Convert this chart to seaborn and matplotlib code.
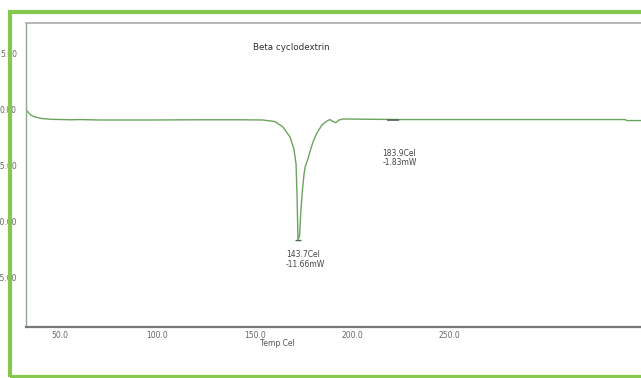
import matplotlib
matplotlib.use("Agg")
import matplotlib.pyplot as plt
from matplotlib.patches import Rectangle
from matplotlib.ticker import FormatStrFormatter
import seaborn as sns
import pandas as pd

# Data (axis coordinates)
temp_cel = [32.4, 33.4, 34.9, 37.0, 40.6, 45.7, 50.9, 55.0, 60.1, 70.4, 96.1,
            121.8, 142.4, 154.2, 160.4, 164.5, 168.1, 170.1, 171.2, 171.7, 172.2,
            173.0, 173.7, 174.5, 175.3, 176.0, 176.8, 178.3, 179.9, 181.9, 184.5,
            187.1, 188.6, 190.2, 191.7, 193.3, 195.3, 224.6, 276.0, 327.4, 340.3,
            341.3, 348.5, 362.0]
heat_mw = [-0.09, -0.27, -0.54, -0.71, -0.85, -0.92, -0.94, -0.96, -0.94, -0.98, -0.98,
           -0.96, -0.96, -0.98, -1.12, -1.61, -2.50, -3.57, -4.91, -7.68, -11.66,
           -11.34, -9.02, -7.23, -5.80, -5.09, -4.73, -3.84, -2.95, -2.14, -1.43,
           -1.07, -0.94, -1.12, -1.21, -0.98, -0.89, -0.94, -0.94, -0.94, -0.94,
           -1.03, -1.03, -1.03]
x_ticks = [50, 100, 150, 200, 250]
y_ticks = [5, 0, -5, -10, -15]
title_text = "Beta cyclodextrin"
peak_label = "143.7Cel\n-11.66mW"
second_label = "183.9Cel\n-1.83mW"
peak_point = (172.2, -11.66)

df = pd.DataFrame({"Temp": temp_cel, "mW": heat_mw})

sns.set_style("white")
W, H = 641, 378
fig = plt.figure(figsize=(W / 100, H / 100), dpi=100)
fig.patch.set_facecolor("white")

xmin, xmax = 32.4, 360.0
ax = fig.add_axes([26 / W, 51 / H, (xmax - xmin) * 1.9456 / W, 304 / H])
sns.lineplot(data=df, x="Temp", y="mW", ax=ax, sort=False, estimator=None,
             color="#6aa35e", linewidth=1.0)
ax.plot([peak_point[0]], [peak_point[1]], marker="_", markersize=5,
        color="#4a6a4a", mew=1.0)
ax.plot([221.0], [-1.0], marker="_", markersize=8, color="#556655", mew=1.2)

ax.set_xlim(xmin, xmax)
ax.set_ylim(-19.46, 7.68)
ax.set_xticks(x_ticks)
ax.set_yticks(y_ticks)
ax.xaxis.set_major_formatter(FormatStrFormatter("%.1f"))
ax.yaxis.set_major_formatter(FormatStrFormatter("%.2f"))
ax.tick_params(axis="both", direction="in", length=6, width=0.8, colors="#777777",
               labelsize=5.5, labelcolor="#666666")
ax.tick_params(axis="y", pad=6.5)
ax.tick_params(axis="x", pad=3)

ax.set_xlabel("Temp Cel", fontsize=5.5, color="#555555")
ax.set_ylabel("")
ax.xaxis.set_label_coords((277 - 26) / ((xmax - xmin) * 1.9456), -0.040)

for side in ["right"]:
    ax.spines[side].set_visible(False)
ax.spines["left"].set_color("#8fa88f")
ax.spines["left"].set_linewidth(1.0)
ax.spines["top"].set_color("#aaaaaa")
ax.spines["top"].set_linewidth(1.2)
ax.spines["bottom"].set_color("#777777")
ax.spines["bottom"].set_linewidth(1.6)

ax.text((291 - 26) / ((xmax - xmin) * 1.9456), (327 - 47) / 304, title_text,
        transform=ax.transAxes, ha="center", va="center", fontsize=6.3,
        color="#333333")
ax.text(166.0, -12.6, peak_label, ha="left", va="top", fontsize=5.5,
        color="#444444", linespacing=1.05)
ax.text(215.5, -3.55, second_label, ha="left", va="top", fontsize=5.5,
        color="#444444", linespacing=1.05)

# green frame around the picture
fig.patches.append(Rectangle((10 / W, 1.5 / H), (660 - 10) / W, (366 - 1.5) / H,
                             transform=fig.transFigure, fill=False,
                             edgecolor="#86c84e", linewidth=3.0, zorder=10))

fig.savefig("out.png", dpi=100)
